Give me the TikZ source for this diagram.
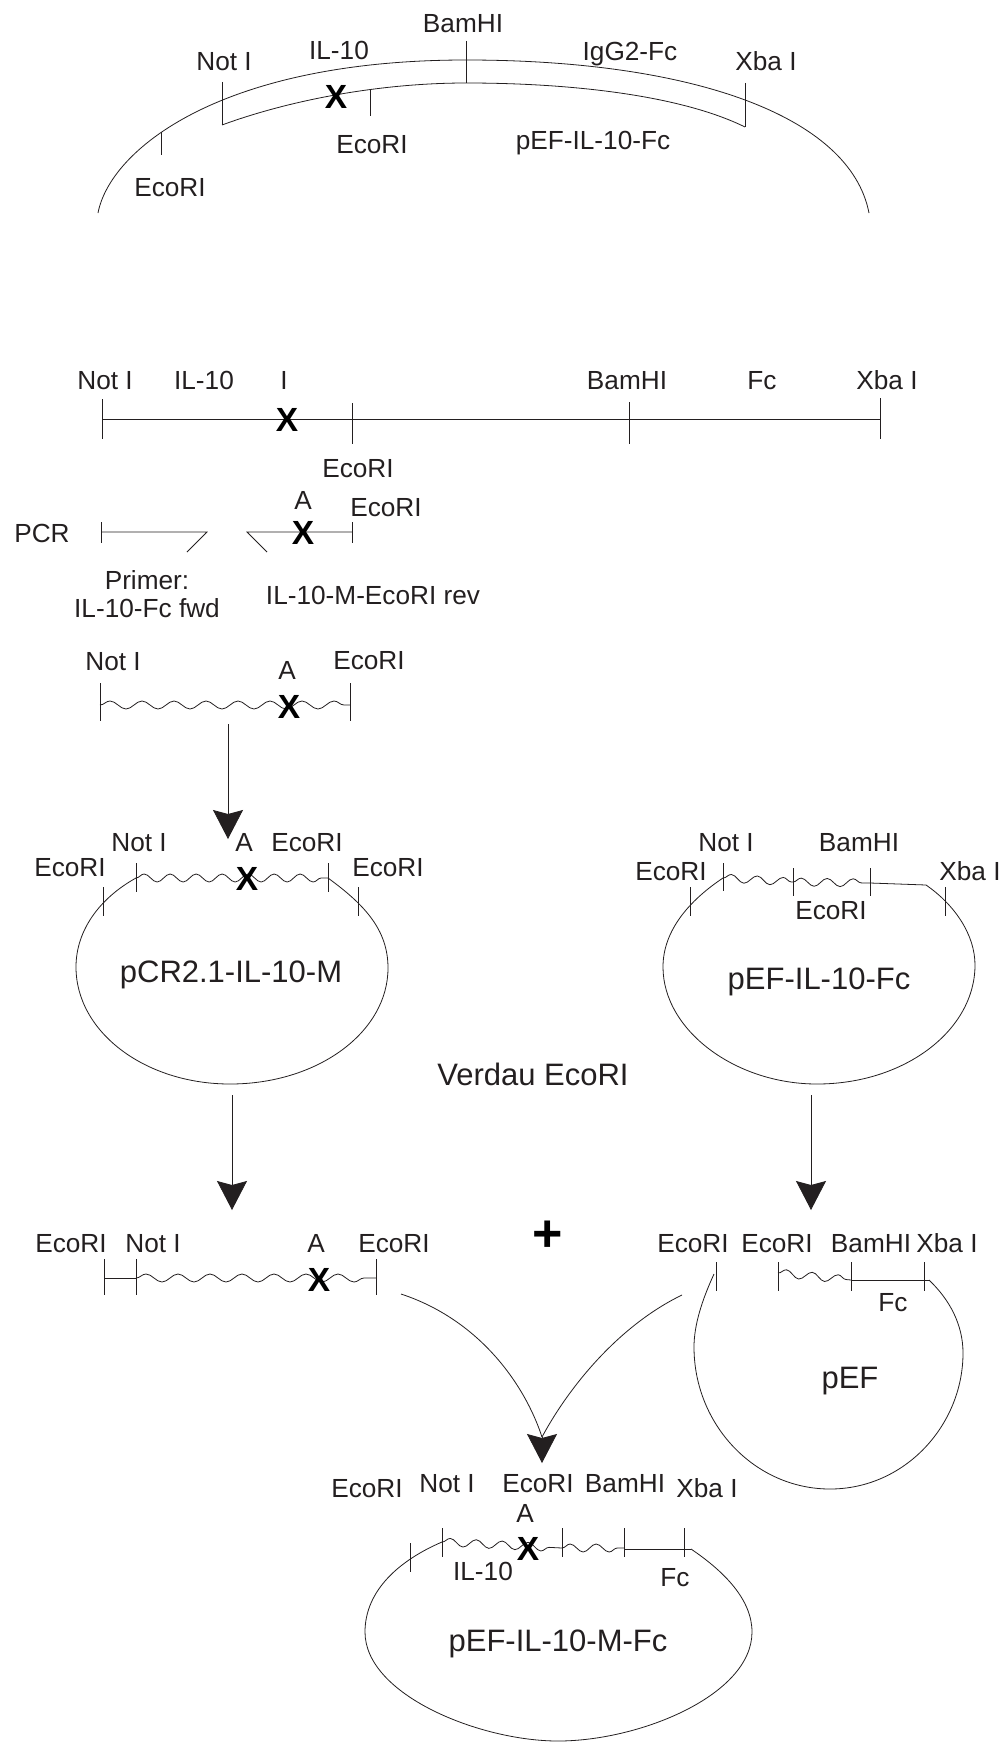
\documentclass[tikz,border=0pt]{standalone}
\usepackage{fontspec}
\setmainfont{Liberation Sans}
\usepackage{xcolor}
\usetikzlibrary{arrows.meta,decorations.pathmorphing}
\definecolor{inkDark}{HTML}{231F20}
\begin{document}
\begin{tikzpicture}[
 x=1pt,y=-1pt,
 lbl/.style={inner sep=0pt,text=inkDark,text height=18.8pt,text depth=0pt,font=\fontsize{26.2}{30}\selectfont},
 biglbl/.style={lbl,text height=22.2pt,font=\fontsize{31}{36}\selectfont},
 mut/.style={inner sep=0pt,text=black,text height=24pt,text depth=0pt,font=\fontsize{33.5}{36}\selectfont\bfseries},
 strand/.style={draw=inkDark,line width=.8pt},
 cut/.style={strand},
 wave/.style={strand,decorate,decoration={snake,segment length=32pt,amplitude=4pt}},
 arr/.style={strand,-{Stealth[length=29pt,width=30pt,inset=4pt]}}]
\useasboundingbox (0,0) rectangle (1004,1742);
% vector on top
\draw[strand] (98,213) .. controls (110,150) and (220,60) .. (466,60) .. controls (690,60) and (850,115) .. (869,213);
\draw[strand] (222,125) .. controls (290,100) and (380,83) .. (466,83) .. controls (570,83) and (680,95) .. (745,127);
\draw[cut] (222,82)--(222,125);
\draw[cut] (745,83)--(745,127);
\draw[cut] (466,41)--(466,83);
\draw[cut] (370,90)--(370,116);
\draw[cut] (161,132)--(161,155);
\node[lbl] (topBam) at (463,23) {BamHI};
\node[lbl] (topIl) at (339,50) {IL-10};
\node[lbl] (topNot) at (224,61) {Not I};
\node[lbl] (topFc) at (630,51) {IgG2-Fc};
\node[lbl] (topXba) at (766,61) {Xba I};
\node[lbl] (topEcoA) at (372,144) {EcoRI};
\node[lbl] (topEcoB) at (170,187) {EcoRI};
\node[lbl] (topName) at (593,140) {pEF-IL-10-Fc};
\node[mut] (topMut) at (336,97) {X};
% linear construct
\draw[strand] (102,419)--(880,419);
\draw[cut] (102,399)--(102,439);
\draw[cut] (352,403)--(352,444);
\draw[cut] (629,402)--(629,444);
\draw[cut] (880,398)--(880,439);
\node[lbl] (linNot) at (105,380) {Not I};
\node[lbl] (linIl) at (204,380) {IL-10};
\node[lbl] (linI) at (284,380) {I};
\node[lbl] (linBam) at (627,380) {BamHI};
\node[lbl] (linFc) at (762,380) {Fc};
\node[lbl] (linXba) at (887,380) {Xba I};
\node[lbl] (linEco) at (358,468) {EcoRI};
\node[mut] (linMut) at (287,419) {X};
% primers
\draw[strand] (187,552)--(207,532)--(101,532);
\draw[strand] (267,552)--(247,532)--(352,532);
\draw[cut] (101,522)--(101,543);
\draw[cut] (352,522)--(352,543);
\node[lbl] (pcr) at (42,533) {PCR};
\node[lbl] (priA) at (303,500) {A};
\node[lbl] (priEco) at (386,507) {EcoRI};
\node[lbl] (priTxt) at (147,580) {Primer:};
\node[lbl] (priFwd) at (147,608) {IL-10-Fc fwd};
\node[lbl] (priRev) at (373,595) {IL-10-M-EcoRI rev};
\node[mut] (priMut) at (303,532) {X};
% PCR product
\draw[wave] (100,705)--(350,705);
\draw[cut] (100,683)--(100,721);
\draw[cut] (350,683)--(350,721);
\node[lbl] (proNot) at (113,661) {Not I};
\node[lbl] (proA) at (287,670) {A};
\node[lbl] (proEco) at (369,660) {EcoRI};
\node[mut] (proMut) at (289,706) {X};
\coordinate (proOut) at (228,724);
\coordinate (pcrIn) at (228,839);
\draw[arr] (proOut)--(pcrIn);
% pCR2.1 plasmid
\draw[wave,segment length=26pt] (136,878)--(328,878);
\draw[strand] (136,878) .. controls (100,898) and (76,930) .. (76,967) .. controls (76,1032) and (145,1084) .. (230,1084) .. controls (318,1084) and (388,1032) .. (388,968) .. controls (388,930) and (365,905) .. (328,878);
\draw[cut] (136,863)--(136,892);
\draw[cut] (328,863)--(328,892);
\draw[cut] (103,887)--(103,916);
\draw[cut] (358,887)--(358,916);
\node[lbl] (pcrNot) at (139,842) {Not I};
\node[lbl] (pcrA) at (244,842) {A};
\node[lbl] (pcrEcoA) at (307,842) {EcoRI};
\node[lbl] (pcrEcoB) at (70,867) {EcoRI};
\node[lbl] (pcrEcoC) at (388,867) {EcoRI};
\node[mut] (pcrMut) at (247,878) {X};
\node[biglbl] (pcrName) at (231,971) {pCR2.1-IL-10-M};
% pEF plasmid with insert
\draw[wave,segment length=26pt] (723,878)--(793,882);
\draw[wave,segment length=26pt] (793,882)--(870,883);
\draw[strand] (870,883)--(926,885);
\draw[strand] (723,878) .. controls (690,900) and (663,930) .. (663,967) .. controls (663,1030) and (735,1084) .. (817,1084) .. controls (905,1084) and (975,1030) .. (975,965) .. controls (975,935) and (955,905) .. (926,885);
\draw[cut] (723,863)--(723,891);
\draw[cut] (793,868)--(793,896);
\draw[cut] (870,868)--(870,896);
\draw[cut] (690,887)--(690,916);
\draw[cut] (945,887)--(945,916);
\node[lbl] (efNot) at (726,842) {Not I};
\node[lbl] (efBam) at (859,842) {BamHI};
\node[lbl] (efEcoA) at (671,871) {EcoRI};
\node[lbl] (efXba) at (970,871) {Xba I};
\node[lbl] (efEcoB) at (831,910) {EcoRI};
\node[biglbl] (efName) at (819,978) {pEF-IL-10-Fc};
\node[biglbl] (digest) at (533,1074) {Verdau EcoRI};
\coordinate (pcrOut) at (232,1095);
\coordinate (fragIn) at (232,1210);
\draw[arr] (pcrOut)--(fragIn);
\coordinate (efOut) at (811,1095);
\coordinate (backIn) at (811,1210);
\draw[arr] (efOut)--(backIn);
% fragment
\draw[strand] (104,1278)--(136,1278);
\draw[wave] (136,1278)--(376,1278);
\draw[cut] (104,1259)--(104,1295);
\draw[cut] (136,1259)--(136,1295);
\draw[cut] (376,1259)--(376,1295);
\node[lbl] (frEcoA) at (71,1243) {EcoRI};
\node[lbl] (frNot) at (153,1243) {Not I};
\node[lbl] (frA) at (316,1243) {A};
\node[lbl] (frEcoB) at (394,1243) {EcoRI};
\node[mut] (frMut) at (319,1279) {X};
\node[inner sep=0pt,font=\fontsize{52}{52}\selectfont\bfseries] (plus) at (548,1236) {+};
% pEF backbone
\draw[wave,segment length=26pt] (778,1273)--(851,1280);
\draw[strand] (851,1280)--(929,1280);
\draw[strand] (714,1274) .. controls (702,1300) and (694,1325) .. (694,1347) .. controls (694,1425) and (755,1489) .. (830,1489) .. controls (905,1489) and (963,1425) .. (963,1353) .. controls (963,1325) and (950,1300) .. (929,1280);
\draw[cut] (716,1262)--(716,1291);
\draw[cut] (778,1262)--(778,1291);
\draw[cut] (851,1262)--(851,1291);
\draw[cut] (924,1262)--(924,1291);
\node[lbl] (bbEcoA) at (693,1243) {EcoRI};
\node[lbl] (bbEcoB) at (777,1243) {EcoRI};
\node[lbl] (bbBam) at (871,1243) {BamHI};
\node[lbl] (bbXba) at (947,1243) {Xba I};
\node[lbl] (bbFc) at (893,1302) {Fc};
\node[biglbl] (bbName) at (850,1377) {pEF};
% ligation
\coordinate (frOut) at (401,1294);
\coordinate (bbOut) at (682,1295);
\coordinate (ligBack) at (542,1437);
\coordinate (ligIn) at (542,1463);
\draw[strand] (bbOut) .. controls (620,1325) and (570,1385) .. (ligBack);
\draw[strand] (frOut) .. controls (480,1320) and (525,1385) .. (ligBack);
\draw[arr] (ligBack)--(ligIn);
% final plasmid
\draw[wave,segment length=26pt] (442,1542)--(562,1548);
\draw[wave,segment length=26pt] (562,1548)--(624,1548);
\draw[strand] (624,1549)--(691,1549);
\draw[strand] (442,1542) .. controls (400,1560) and (365,1590) .. (365,1632) .. controls (365,1695) and (480,1741) .. (558,1741) .. controls (640,1741) and (752,1695) .. (752,1632) .. controls (752,1600) and (725,1572) .. (691,1549);
\draw[cut] (410,1543)--(410,1572);
\draw[cut] (442,1528)--(442,1557);
\draw[cut] (562,1528)--(562,1557);
\draw[cut] (624,1528)--(624,1557);
\draw[cut] (684,1528)--(684,1557);
\node[lbl] (finEcoA) at (367,1488) {EcoRI};
\node[lbl] (finNot) at (447,1483) {Not I};
\node[lbl] (finEcoB) at (538,1483) {EcoRI};
\node[lbl] (finBam) at (625,1483) {BamHI};
\node[lbl] (finXba) at (707,1488) {Xba I};
\node[lbl] (finA) at (525,1513) {A};
\node[lbl] (finIl) at (483,1571) {IL-10};
\node[lbl] (finFc) at (675,1577) {Fc};
\node[mut] (finMut) at (528,1548) {X};
\node[biglbl] (finName) at (558,1640) {pEF-IL-10-M-Fc};
\end{tikzpicture}
\end{document}
